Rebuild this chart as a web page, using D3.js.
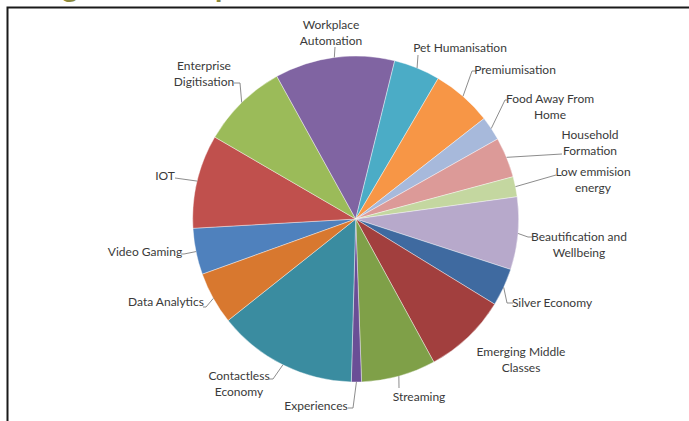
<!DOCTYPE html>
<html>
<head>
<meta charset="utf-8">
<script src="https://cdn.jsdelivr.net/npm/d3@7"></script>
<style>
  body { margin: 0; background: #fff; }
  svg { display: block; }
  .lbl { font-family: Lato, "Open Sans", sans-serif; font-size: 12px; fill: #3a3a3a; }
</style>
</head>
<body>
<div id="chart-area"></div>
<script>

// slices in series order (Excel starts with Video Gaming)
var categories = ["Video Gaming", "IOT", "Enterprise Digitisation", "Workplace Automation",
    "Pet Humanisation", "Premiumisation", "Food Away From Home", "Household Formation",
    "Low emmision energy", "Beautification and Wellbeing", "Silver Economy",
    "Emerging Middle Classes", "Streaming", "Experiences", "Contactless Economy", "Data Analytics"];
var values = [4.6, 9.3, 8.6, 11.9, 4.6, 6.0, 2.4, 4.0, 2.0, 7.2, 3.75, 8.3, 7.4, 1.0, 13.9, 5.2];
var colors = ["#4f81bd", "#c0504d", "#9bbb59", "#8064a2", "#4bacc6", "#f79646",
    "#a7b9db", "#dc9a98", "#c4d7a0", "#b7a9cb", "#3f6aa0", "#a23f3e",
    "#7fa048", "#6a4e96", "#3a8ca0", "#d8782f"];

var width = 689, height = 421;
var cx = 355.7, cy = 219, radius = 163;
var firstAngle = 250.2 * Math.PI / 180;

// label layout: text lines, centre of first line, leader points from label toward slice
var labelLayout = {
    "Video Gaming": { lines: ["Video Gaming"], x: 145, y: 252, lead: [[181, 254], [184, 254]] },
    "IOT": { lines: ["IOT"], x: 165, y: 176, lead: [[175, 178]] },
    "Enterprise Digitisation": { lines: ["Enterprise", "Digitisation"], x: 204, y: 66, lead: [[234, 83], [240, 83]] },
    "Workplace Automation": { lines: ["Workplace", "Automation"], x: 331, y: 25, lead: [[335, 47]] },
    "Pet Humanisation": { lines: ["Pet Humanisation"], x: 460, y: 48, lead: [[418, 55]] },
    "Premiumisation": { lines: ["Premiumisation"], x: 515, y: 70, lead: [[476, 71], [472, 71]] },
    "Food Away From Home": { lines: ["Food Away From", "Home"], x: 550, y: 99, lead: [[507, 100], [505, 100]] },
    "Household Formation": { lines: ["Household", "Formation"], x: 590, y: 135, lead: [[562, 154]] },
    "Low emmision energy": { lines: ["Low emmision", "energy"], x: 593, y: 172, lead: [[556, 175]] },
    "Beautification and Wellbeing": { lines: ["Beautification and", "Wellbeing"], x: 579, y: 237, lead: [[532, 237], [528, 237]] },
    "Silver Economy": { lines: ["Silver Economy"], x: 552, y: 303, lead: [[513, 303], [507, 303]] },
    "Emerging Middle Classes": { lines: ["Emerging Middle", "Classes"], x: 521, y: 352, lead: [] },
    "Streaming": { lines: ["Streaming"], x: 419, y: 397, lead: [[399, 388]] },
    "Experiences": { lines: ["Experiences"], x: 316, y: 406, lead: [[348, 408], [353, 408]] },
    "Contactless Economy": { lines: ["Contactless", "Economy"], x: 239, y: 376, lead: [[269, 379], [273, 379]] },
    "Data Analytics": { lines: ["Data Analytics"], x: 166, y: 302, lead: [[203, 307], [206, 307]] }
};

var data = categories.map(function(c, i) {
    return { name: c, value: values[i], color: colors[i] };
});

var svg = d3.select("#chart-area")
    .append("svg")
    .attr("width", width)
    .attr("height", height);

// page title sits mostly above the crop, only descenders show
svg.append("text")
    .attr("x", 18)
    .attr("y", -3)
    .style("font-family", "Lato, sans-serif")
    .style("font-size", "30px")
    .style("font-weight", "bold")
    .attr("fill", "#8c8a3c")
    .text("Megatrend Map");

svg.append("rect")
    .attr("x", 7.5)
    .attr("y", 7.5)
    .attr("width", width + 20)
    .attr("height", height + 20)
    .attr("fill", "#fff")
    .attr("stroke", "#1a1a1a")
    .attr("stroke-width", 2);

var pie = d3.pie()
    .sort(null)
    .value(function(d) { return d.value; })
    .startAngle(firstAngle)
    .endAngle(firstAngle + 2 * Math.PI);

var arcs = pie(data);

var arc = d3.arc().innerRadius(0).outerRadius(radius);

var g = svg.append("g")
    .attr("transform", "translate(" + cx + "," + cy + ")");

g.selectAll("path")
    .data(arcs)
    .enter().append("path")
    .attr("d", arc)
    .attr("fill", function(d) { return d.data.color; })
    .attr("stroke", "#fff")
    .attr("stroke-width", 0.4);

// leader lines
var line = d3.line();
arcs.forEach(function(d) {
    var lay = labelLayout[d.data.name];
    if (!lay.lead.length) return;
    var mid = (d.startAngle + d.endAngle) / 2;
    var ex = cx + radius * Math.sin(mid),
        ey = cy - radius * Math.cos(mid);
    var pts = lay.lead.concat([[ex, ey]]);
    svg.append("path")
        .attr("d", line(pts))
        .attr("fill", "none")
        .attr("stroke", "#7f7f7f")
        .attr("stroke-width", 0.9);
});

// labels
arcs.forEach(function(d) {
    var lay = labelLayout[d.data.name];
    var t = svg.append("text")
        .attr("class", "lbl")
        .attr("text-anchor", "middle");
    lay.lines.forEach(function(s, i) {
        t.append("tspan")
            .attr("x", lay.x)
            .attr("y", lay.y + i * 15.5)
            .attr("dy", "0.35em")
            .text(s);
    });
});

</script>
</body>
</html>
